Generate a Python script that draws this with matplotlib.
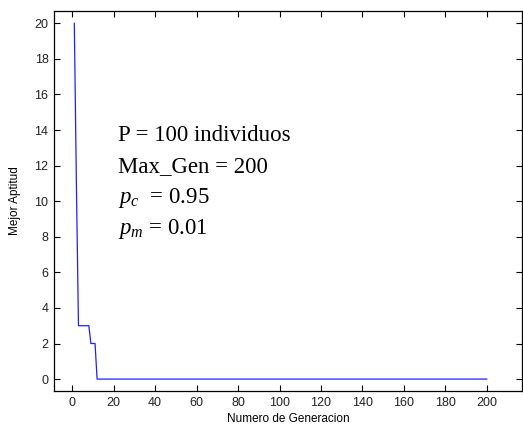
import matplotlib
matplotlib.use("Agg")
import matplotlib.pyplot as plt
import numpy as np

# Data
generations = list(range(1, 201))
early_fitness = [20, 11, 3, 3, 3, 3, 3, 3, 2, 2, 2]
best_fitness = early_fitness + [0] * (200 - len(early_fitness))

x_ticks = list(range(0, 201, 20))
y_ticks = list(range(0, 21, 2))

params_text = ["P = 100 individuos", "Max_Gen = 200", r"$p_c$  = 0.95", r"$p_m$ = 0.01"]

plt.rcParams['mathtext.fontset'] = 'custom'
plt.rcParams['mathtext.rm'] = 'Liberation Serif'
plt.rcParams['mathtext.it'] = 'Liberation Serif:italic'

fig = plt.figure(figsize=(5.23, 4.34), dpi=100)
ax = fig.add_axes([54/523, 1 - 391/434, (522-54)/523, (391-10.5)/434])

ax.plot(generations, best_fitness, color='#2020ff', lw=0.9)

ax.set_xlim(-8.8, 217)
ax.set_ylim(-0.67, 20.72)
ax.set_xticks(x_ticks)
ax.set_yticks(y_ticks)
ax.tick_params(direction='in', top=True, right=True, length=4, width=0.8,
               labelsize=9, pad=4, colors='black')
for lab in ax.get_xticklabels() + ax.get_yticklabels():
    lab.set_family('Liberation Sans')
    lab.set_color('#222222')
for s in ax.spines.values():
    s.set_linewidth(0.9)

ax.set_xlabel('Numero de Generacion', family='Liberation Sans', fontsize=8.5, labelpad=3)
ax.set_ylabel('Mejor Aptitud', family='Liberation Sans', fontsize=8.5, labelpad=10)

y0 = 13.7
for i, t in enumerate(params_text):
    ax.text(22, y0 - i * 1.76, t, family='Liberation Serif', fontsize=16.5, va='center', ha='left')

fig.savefig('out.png', dpi=100)
